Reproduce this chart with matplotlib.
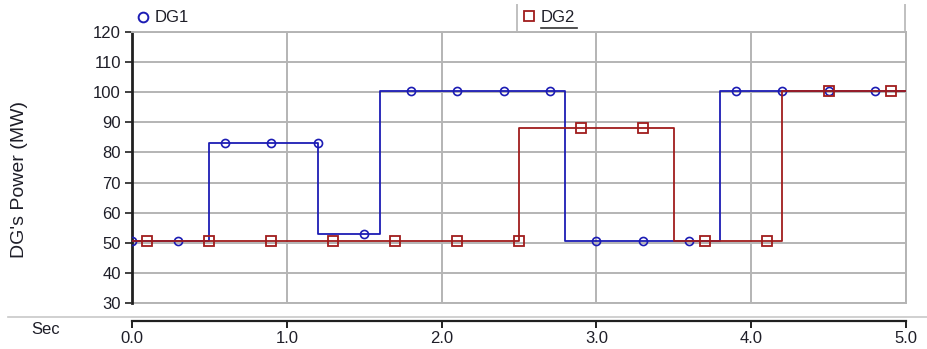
import matplotlib

matplotlib.use("Agg")
import matplotlib.pyplot as plt
from matplotlib.lines import Line2D

plt.rcParams["font.family"] = ["Liberation Sans", "DejaVu Sans"]

# Step profiles (time in s, power in MW)
dg1_t = [0.0, 0.5, 1.2, 1.6, 2.8, 3.8, 5.0]
dg1_p = [50.5, 83.0, 53.0, 100.3, 50.5, 100.3, 100.3]
dg2_t = [0.0, 2.5, 3.5, 4.2, 5.0]
dg2_p = [50.5, 88.0, 50.5, 100.3, 100.3]

# Marker samples
dg1_mt = [0.0, 0.3, 0.6, 0.9, 1.2, 1.5, 1.8, 2.1, 2.4, 2.7, 3.0, 3.3, 3.6, 3.9, 4.2, 4.5, 4.8]
dg1_mp = [50.5, 50.5, 83.0, 83.0, 83.0, 53.0, 100.3, 100.3, 100.3, 100.3,
          50.5, 50.5, 50.5, 100.3, 100.3, 100.3, 100.3]
dg2_mt = [0.1, 0.5, 0.9, 1.3, 1.7, 2.1, 2.5, 2.9, 3.3, 3.7, 4.1, 4.5, 4.9]
dg2_mp = [50.5, 50.5, 50.5, 50.5, 50.5, 50.5, 50.5, 88.0, 88.0, 50.5, 50.5, 100.3, 100.3]

x_ticks = [0, 1, 2, 3, 4, 5]
x_labels = ["0.0", "1.0", "2.0", "3.0", "4.0", "5.0"]
y_ticks = list(range(30, 121, 10))

BLUE = "#1c1cb4"
RED = "#a01c1c"
GRID = "#b4b4b4"
TXT = "#1e1e28"

fig = plt.figure(figsize=(9.28, 3.49), dpi=100)
ax = fig.add_axes([132 / 928, 46 / 349, 774 / 928, 271 / 349])

ax.step(dg1_t, dg1_p, where="post", color=BLUE, lw=1.3, zorder=3)
ax.plot(dg1_mt, dg1_mp, ls="none", marker="o", ms=5.8, mfc="none",
        mec=BLUE, mew=1.2, zorder=4)
ax.step(dg2_t, dg2_p, where="post", color=RED, lw=1.3, zorder=5)
ax.plot(dg2_mt, dg2_mp, ls="none", marker="s", ms=6.5, mfc="none",
        mec=RED, mew=1.3, zorder=6)

ax.set_xlim(0, 5)
ax.set_ylim(30, 120)
ax.set_xticks(x_ticks)
ax.set_xticklabels(x_labels)
ax.set_yticks(y_ticks)
ax.grid(True, color=GRID, lw=1.4, zorder=0)
ax.set_axisbelow(True)

ax.spines["left"].set_color("#202020")
ax.spines["left"].set_linewidth(2)
for s in ("top", "right"):
    ax.spines[s].set_color(GRID)
    ax.spines[s].set_linewidth(1.4)
ax.spines["bottom"].set_position(("outward", 13))
ax.spines["bottom"].set_color("#202020")
ax.spines["bottom"].set_linewidth(1.6)
ax.axhline(30, color=GRID, lw=1.4, clip_on=False, zorder=1)

ax.tick_params(axis="y", direction="out", length=5, width=1.2,
               color="#202020", labelsize=12, labelcolor=TXT, pad=3)
ax.tick_params(axis="x", direction="out", length=5, width=1.4,
               color="#202020", labelsize=12, labelcolor=TXT, pad=2)

fig.text(20 / 928, 1 - 179 / 349, "DG's Power (MW)", rotation=90, ha="center",
         va="center", fontsize=14, color=TXT)
fig.text(46 / 928, 1 - 330 / 349, "Sec", ha="center", va="center",
         fontsize=12, color=TXT)

# separator between plot and time axis
fig.add_artist(Line2D([8 / 928, 1.0], [1 - 317 / 349] * 2,
                      transform=fig.transFigure, color="#c8c8c8", lw=1.2))

# legend strip at the top
for xp in (517, 905):
    fig.add_artist(Line2D([xp / 928] * 2, [1 - 5 / 349, 1 - 30 / 349],
                          transform=fig.transFigure, color="#c0c0c0", lw=1.4))
fig.add_artist(Line2D([143 / 928], [1 - 17 / 349], transform=fig.transFigure,
                      ls="none", marker="o", ms=7, mfc="none", mec=BLUE, mew=1.4))
fig.text(155 / 928, 1 - 17 / 349, "DG1", ha="left", va="center",
         fontsize=12, color=TXT)
fig.add_artist(Line2D([529 / 928], [1 - 16 / 349], transform=fig.transFigure,
                      ls="none", marker="s", ms=7, mfc="none", mec=RED, mew=1.3))
fig.text(541 / 928, 1 - 17 / 349, "DG2", ha="left", va="center",
         fontsize=12, color=TXT)
fig.add_artist(Line2D([541 / 928, 577 / 928], [1 - 28 / 349] * 2,
                      transform=fig.transFigure, color="#333333", lw=1.2))

fig.savefig("out.png", dpi=100)
